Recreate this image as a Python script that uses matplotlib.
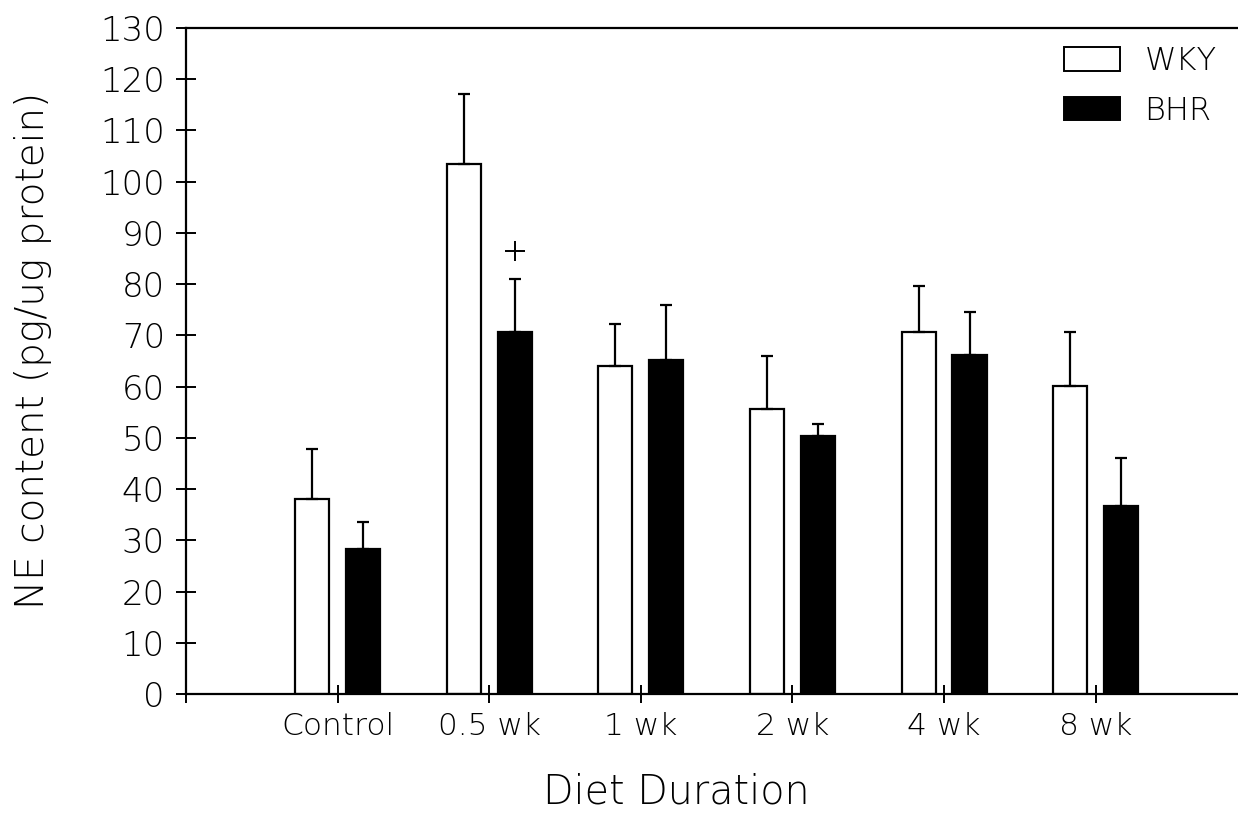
import matplotlib
matplotlib.use("Agg")
import matplotlib.pyplot as plt
from matplotlib.patches import Patch
import numpy as np

plt.rcParams['font.family'] = ['DejaVu Sans']
plt.rcParams['font.weight'] = 'light'

categories = ['Control', '0.5 wk', '1 wk', '2 wk', '4 wk', '8 wk']
wky_mean = [38.0, 103.5, 64.0, 55.7, 70.6, 60.2]
wky_err = [9.9, 13.7, 8.3, 10.3, 9.0, 10.5]
bhr_mean = [28.4, 70.7, 65.1, 50.3, 66.2, 36.7]
bhr_err = [5.2, 10.4, 10.8, 2.4, 8.3, 9.4]
yticks = list(range(0, 131, 10))
sig_category = 1
sig_y = 86.4

W, H = 1238, 814
fig = plt.figure(figsize=(W / 100, H / 100), dpi=100)
ax = fig.add_axes([186 / W, 1 - 694 / H, (W - 186) / W, (694 - 28) / H])

x = np.arange(len(categories))
off = 0.168
bw = 0.225
ax.bar(x - off, wky_mean, bw, color='white', edgecolor='black', linewidth=1.6, label='WKY', zorder=2)
ax.bar(x + off, bhr_mean, bw, color='black', edgecolor='black', linewidth=1.6, label='BHR', zorder=2)
ax.errorbar(x - off, wky_mean, yerr=[np.zeros(len(x)), wky_err], fmt='none', ecolor='black',
            elinewidth=1.6, capsize=4, capthick=1.6, zorder=3)
ax.errorbar(x + off, bhr_mean, yerr=[np.zeros(len(x)), bhr_err], fmt='none', ecolor='black',
            elinewidth=1.6, capsize=4, capthick=1.6, zorder=3)
ax.plot([sig_category + off], [sig_y], marker='+', markersize=15, mew=1.4, color='black', zorder=3)

ax.set_xlim(-1.0, (W - 337.7) / 151.6)
ax.set_ylim(0, 130)
ax.set_yticks(yticks)
ax.set_yticklabels([str(v) for v in yticks], fontsize=24.5)
ax.set_xticks([-1] + list(x))
ax.set_xticklabels([''] + categories, fontsize=22.5)
ax.tick_params(axis='y', direction='inout', length=14.4, width=1.4, pad=8)
ax.tick_params(axis='x', direction='inout', length=13.5, width=1.4, pad=6)
for s in ['left', 'bottom', 'top']:
    ax.spines[s].set_linewidth(1.6)
ax.spines['right'].set_visible(False)

fig.text(676.5 / W, 1 - 792 / H, 'Diet Duration', fontsize=28.5, ha='center', va='center')
fig.text(33 / W, 1 - 350 / H, 'NE content (pg/ug protein)', fontsize=28, ha='center', va='center',
         rotation=90)

handles = [Patch(facecolor='white', edgecolor='black', linewidth=1.4),
           Patch(facecolor='black', edgecolor='black', linewidth=1.4)]
ax.legend(handles, ['WKY', 'BHR'], loc='upper left', bbox_to_anchor=(1064 / W, 1 - 46 / H),
          bbox_transform=fig.transFigure, frameon=False, fontsize=23, borderpad=0,
          borderaxespad=0, handlelength=1.74, handleheight=0.75, handletextpad=0.78,
          labelspacing=0.62)

fig.savefig('out.png', dpi=100)
